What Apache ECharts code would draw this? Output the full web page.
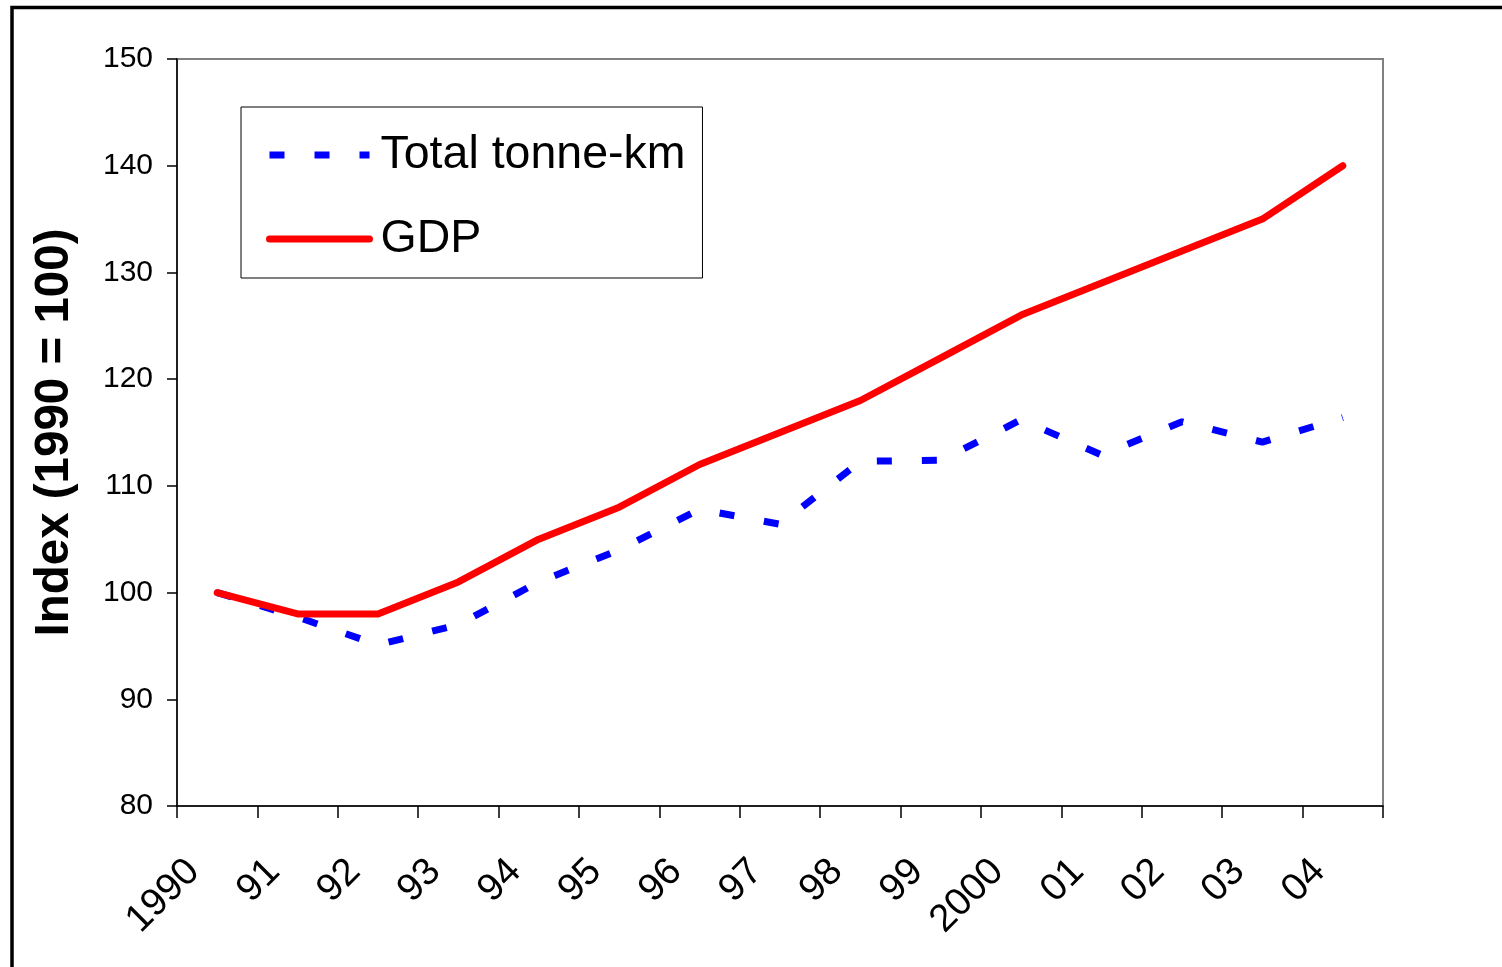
<!DOCTYPE html>
<html>
<head>
<meta charset="utf-8">
<script src="https://cdn.jsdelivr.net/npm/echarts@6/dist/echarts.min.js"></script>
<style>
html,body{margin:0;padding:0;background:#fff;}
#chart{width:1502px;height:967px;}
</style>
</head>
<body>
<div id="chart"></div>
<script>
const years = ['1990','91','92','93','94','95','96','97','98','99','2000','01','02','03','04'];
const tonneKm = [100, 97.7, 95.1, 97, 101, 104, 107.8, 106.4, 112.3, 112.4, 116.2, 112.9, 116, 114.1, 116.4];
const gdp = [100, 98, 98, 101, 105, 108, 112, 115, 118, 122, 126, 129, 132, 135, 140];
const seriesNames = ['Total tonne-km', 'GDP'];
const yTitle = 'Index (1990 = 100)';

const FONT = '"Liberation Sans", Arial, Helvetica, sans-serif';
const chart = echarts.init(document.getElementById('chart'), null, {renderer: 'canvas'});
chart.setOption({
  animation: false,
  backgroundColor: '#fff',
  textStyle: {fontFamily: FONT, color: '#000'},
  graphic: [{
    type: 'rect',
    shape: {x: 12, y: 7.5, width: 1600, height: 1100},
    style: {fill: 'none', stroke: '#000', lineWidth: 3.5},
    silent: true
  }],
  grid: {
    left: 177, right: 119, top: 59, bottom: 161,
    show: true, borderColor: '#808080', borderWidth: 2, backgroundColor: 'transparent'
  },
  legend: {
    orient: 'vertical',
    left: 241, top: 107,
    padding: [23, 17, 14, 25],
    itemGap: 34,
    itemWidth: 100,
    itemHeight: 20,
    backgroundColor: '#fff',
    borderColor: '#000',
    borderWidth: 1,
    itemStyle: {color: 'rgba(0,0,0,0)', borderWidth: 0, opacity: 0},
    lineStyle: {width: 7},
    textStyle: {fontSize: 46.5, fontFamily: FONT, color: '#000', lineHeight: 50, padding: [0, 0, 0, 6]},
    data: seriesNames
  },
  xAxis: {
    type: 'category',
    data: years,
    boundaryGap: true,
    axisLine: {lineStyle: {color: '#000', width: 1.5}},
    axisTick: {show: true, length: 12, lineStyle: {color: '#000', width: 1.5}},
    axisLabel: {
      interval: 0, rotate: 45, fontSize: 38.5, color: '#000', fontFamily: FONT,
      margin: 36, padding: [0, 33.5, 0, 0]
    },
    splitLine: {show: false}
  },
  yAxis: {
    type: 'value',
    min: 80, max: 150, interval: 10,
    name: yTitle,
    nameLocation: 'middle',
    nameRotate: 90,
    nameGap: 98,
    nameTextStyle: {fontSize: 47.5, fontWeight: 'bold', color: '#000', fontFamily: FONT},
    axisLine: {show: true, lineStyle: {color: '#000', width: 1.5}},
    axisTick: {show: true, length: 10, lineStyle: {color: '#000', width: 1.5}},
    axisLabel: {fontSize: 30, color: '#000', margin: 24, fontFamily: FONT},
    splitLine: {show: false}
  },
  series: [
    {
      name: seriesNames[0], type: 'line', data: tonneKm,
      symbol: 'none', itemStyle: {color: '#0000FF'},
      lineStyle: {color: '#0000FF', width: 7, type: [15, 30], cap: 'butt'}
    },
    {
      name: seriesNames[1], type: 'line', data: gdp,
      symbol: 'none', itemStyle: {color: '#FF0000'},
      lineStyle: {color: '#FF0000', width: 7, type: 'solid', cap: 'round', join: 'round'}
    }
  ]
});
</script>
</body>
</html>
